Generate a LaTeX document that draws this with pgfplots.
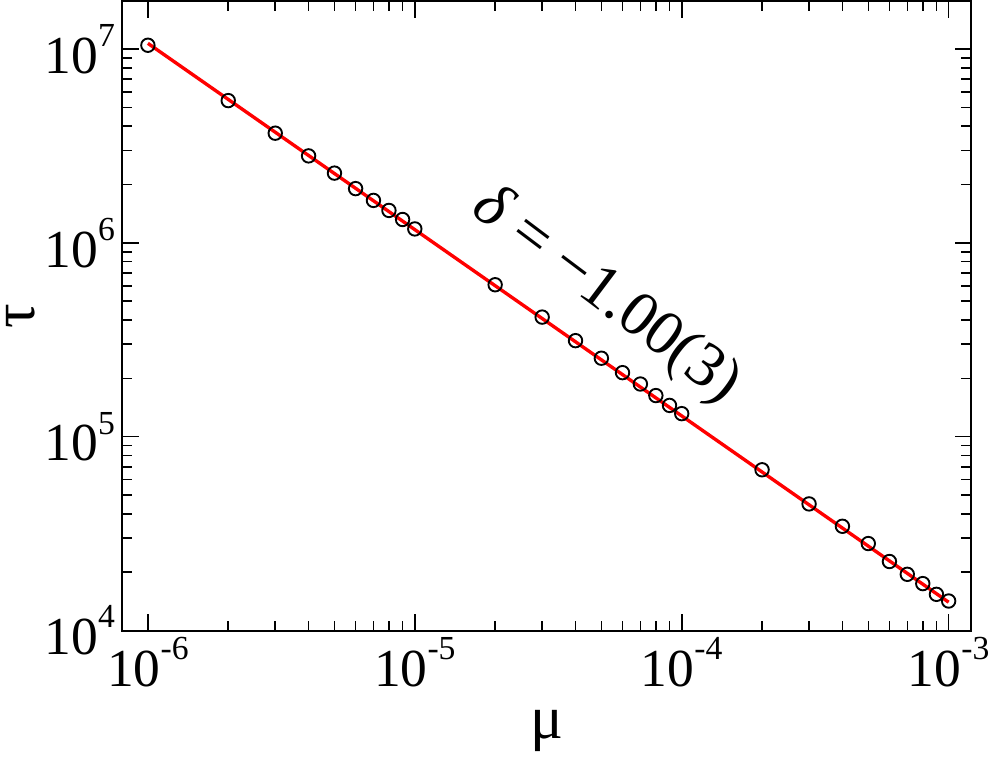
\documentclass[border=0pt]{standalone}
\usepackage{fontspec}
\setmainfont{Liberation Serif}
\usepackage{pgfplots}
\pgfplotsset{compat=1.18}
\newcommand\tl[1]{10\raisebox{0.5em}{\fontsize{17}{20}\selectfont #1}}
\begin{document}
\begin{tikzpicture}
\begin{loglogaxis}[
  scale only axis, width=429pt, height=318pt,
  xmin=8e-7, xmax=1.216e-3, ymin=1e4, ymax=1.77e7,
  xtick={1e-6,1e-5,1e-4,1e-3},
  xticklabels={\tl{-6},\tl{-5},\tl{-4},\tl{-3}},
  ytick={1e4,1e5,1e6,1e7},
  yticklabels={\tl{4},\tl{5},\tl{6},\tl{7}},
  tick label style={font=\fontsize{27}{30}\selectfont},
  xlabel={μ}, ylabel={τ},
  label style={font=\fontsize{31}{36}\selectfont},
  xlabel style={at={(axis description cs:0.5,-0.16)}, anchor=center},
  ylabel style={at={(axis description cs:-0.119,0.5)}, anchor=center},
  axis line style={line width=1pt},
  major tick length=8.5pt, minor tick length=5pt,
  every tick/.style={line width=0.8pt, black},
  tick align=inside,
]
\addplot[only marks, mark=o, mark size=3.4pt, mark options={line width=0.95pt, black}] coordinates {
(1e-6,1.046e7) (2e-6,5.42e6) (3e-6,3.68e6) (4e-6,2.81e6) (5e-6,2.29e6)
(6e-6,1.905e6) (7e-6,1.656e6) (8e-6,1.47e6) (9e-6,1.32e6) (1e-5,1.18e6)
(2e-5,6.08e5) (3e-5,4.14e5) (4e-5,3.13e5) (5e-5,2.54e5) (6e-5,2.14e5)
(7e-5,1.87e5) (8e-5,1.63e5) (9e-5,1.45e5) (1e-4,1.315e5)
(2e-4,6.75e4) (3e-4,4.5e4) (4e-4,3.45e4) (5e-4,2.81e4) (6e-4,2.27e4)
(7e-4,1.95e4) (8e-4,1.746e4) (9e-4,1.537e4) (1e-3,1.42e4)
};
\addplot[red, line width=1.7pt] coordinates {(1e-6,1.07e7) (1e-3,1.40e4)};
\node[rotate=-37, font=\fontsize{32}{36}\selectfont] at (axis cs:5.2e-5,5.3e5) {\textit{δ} = −1.00(3)};
\end{loglogaxis}
\end{tikzpicture}
\end{document}
